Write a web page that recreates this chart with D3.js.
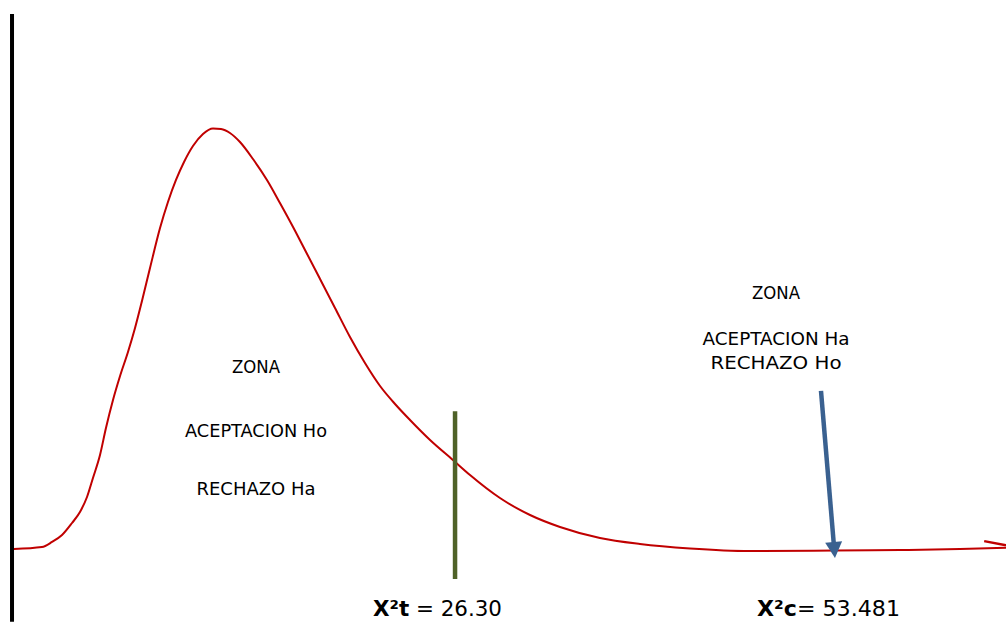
<!DOCTYPE html>
<html>
<head>
<meta charset="utf-8">
<script src="https://cdn.jsdelivr.net/npm/d3@7"></script>
<style>
  body { margin: 0; background: #fff; }
  svg { display: block; }
  .lbl { font-family: "DejaVu Sans", sans-serif; fill: #000; }
</style>
</head>
<body>
<svg id="chart" width="1006" height="625"></svg>
<script>
// curve of the chi-square sketch (x in 0..100 units, density in 0..100 units)
const curveX = [0, 2.82, 3.83, 4.84, 5.85, 6.65, 7.36, 7.96, 8.67, 9.27, 9.98, 10.69, 11.49, 12.20, 12.90, 13.71, 14.72, 15.52, 16.33, 17.14, 18.04, 19.05, 20.06, 20.87, 21.77, 22.78, 24.09, 25.50, 26.81, 28.13, 29.44, 30.85, 32.36, 33.87, 35.38, 36.90, 38.41, 39.92, 41.94, 44.25, 45.97, 48.99, 52.02, 55.04, 59.07, 63.10, 68.15, 74.19, 82.76, 89.31, 95.36, 100];
const curveY = [0.24, 0.71, 1.90, 3.55, 6.40, 9.00, 12.56, 17.06, 22.51, 28.91, 35.55, 41.23, 46.92, 52.61, 59.00, 66.82, 76.30, 82.46, 87.68, 91.94, 95.73, 98.58, 99.88, 99.76, 98.82, 96.68, 92.65, 87.68, 82.23, 76.54, 70.62, 64.22, 57.35, 50.47, 44.31, 38.86, 34.60, 30.81, 26.07, 21.33, 17.77, 12.32, 8.29, 5.45, 2.84, 1.42, 0.36, -0.24, -0.12, 0, 0.24, 0.55];

// small stray stroke at the right edge
const tailX = [97.8, 100];
const tailY = [2.1, 1.1];

// critical value (green bar) and calculated value (arrow)
const critX = 44.46, critTop = 32.9, critBottom = -6.9;
const arrowX = [81.35, 82.76], arrowY = [37.7, -1.9];

// zone labels
const leftZone = ["ZONA", "ACEPTACION Ho", "RECHAZO Ha"];
const rightZone = ["ZONA", "ACEPTACION Ha", "RECHAZO Ho"];

const svg = d3.select("#chart");
const x = d3.scaleLinear().domain([0, 100]).range([14, 1006]);
const y = d3.scaleLinear().domain([0, 100]).range([550, 128]);

// vertical axis
svg.append("line")
  .attr("x1", x(-0.2)).attr("x2", x(-0.2))
  .attr("y1", y(127)).attr("y2", y(-17))
  .attr("stroke", "#000").attr("stroke-width", 4);

const line = d3.line().x(d => x(d[0])).y(d => y(d[1])).curve(d3.curveMonotoneX);

svg.append("path")
  .datum(curveX.map((v, i) => [v, curveY[i]]))
  .attr("d", line)
  .attr("fill", "none").attr("stroke", "#c00000").attr("stroke-width", 2);

svg.append("path")
  .datum(tailX.map((v, i) => [v, tailY[i]]))
  .attr("d", d3.line().x(d => x(d[0])).y(d => y(d[1])))
  .attr("fill", "none").attr("stroke", "#c00000").attr("stroke-width", 2.5);

// green critical line
svg.append("line")
  .attr("x1", x(critX)).attr("x2", x(critX))
  .attr("y1", y(critTop)).attr("y2", y(critBottom))
  .attr("stroke", "#4f6228").attr("stroke-width", 4.5);

// blue arrow: shaft + triangular head
const ax0 = x(arrowX[0]), ay0 = y(arrowY[0]), ax1 = x(arrowX[1]), ay1 = y(arrowY[1]);
const len = Math.hypot(ax1 - ax0, ay1 - ay0);
const ux = (ax1 - ax0) / len, uy = (ay1 - ay0) / len;
const headL = 16, headW = 8.5;
const bx = ax1 - ux * headL, by = ay1 - uy * headL;

svg.append("line")
  .attr("x1", ax0).attr("y1", ay0)
  .attr("x2", bx + ux * 2).attr("y2", by + uy * 2)
  .attr("stroke", "#3a6190").attr("stroke-width", 4.5);

svg.append("path")
  .attr("d", `M${ax1},${ay1} L${bx - uy * headW},${by + ux * headW} L${bx + uy * headW},${by - ux * headW} Z`)
  .attr("fill", "#3a6190");

// zone texts
const leftBase = [373, 437, 495], leftW = [48, 142, 119];
svg.selectAll(".lz").data(leftZone).enter().append("text")
  .attr("class", "lbl lz")
  .attr("x", 256).attr("y", (d, i) => leftBase[i])
  .attr("text-anchor", "middle").attr("font-size", 17.5)
  .attr("textLength", (d, i) => leftW[i]).attr("lengthAdjust", "spacingAndGlyphs")
  .text(d => d);

const rightBase = [299, 345, 369], rightW = [48, 147, 131];
svg.selectAll(".rz").data(rightZone).enter().append("text")
  .attr("class", "lbl rz")
  .attr("x", 776).attr("y", (d, i) => rightBase[i])
  .attr("text-anchor", "middle").attr("font-size", 17.5)
  .attr("textLength", (d, i) => rightW[i]).attr("lengthAdjust", "spacingAndGlyphs")
  .text(d => d);

// value labels
const t1 = svg.append("text").attr("class", "lbl").attr("x", 373).attr("y", 616).attr("font-size", 21.5);
t1.append("tspan").attr("font-weight", "bold").text("X²t");
t1.append("tspan").text(" = 26.30");
t1.attr("textLength", 129).attr("lengthAdjust", "spacingAndGlyphs");

const t2 = svg.append("text").attr("class", "lbl").attr("x", 757).attr("y", 616).attr("font-size", 21.5);
t2.append("tspan").attr("font-weight", "bold").text("X²c");
t2.append("tspan").text("= 53.481");
t2.attr("textLength", 143).attr("lengthAdjust", "spacingAndGlyphs");
</script>
</body>
</html>
